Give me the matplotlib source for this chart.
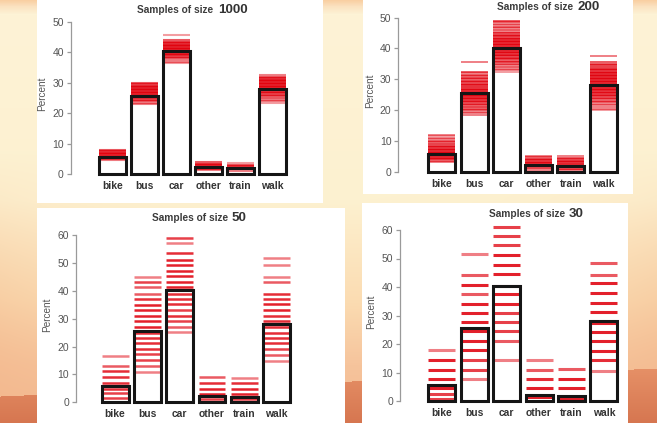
import matplotlib.pyplot as plt
import numpy as np
from matplotlib.patches import Rectangle
from matplotlib.colors import to_rgb

plt.rcParams['font.family'] = ['Liberation Sans', 'DejaVu Sans']

W, H = 657, 423

categories = ["bike", "bus", "car", "other", "train", "walk"]
population_pct = [5.7, 25.6, 40.3, 2.2, 1.9, 28.1]

# sample percentages, as (level, how many samples landed there)
samples_1000 = {
    "bike": [(8.0, 1.5), (7.5, 2.5), (7.0, 3), (6.5, 3), (6.0, 3), (5.5, 2.5), (5.0, 1.5), (4.5, 1)],
    "bus": [(30.0, 1.5), (29.5, 2), (29.0, 2.5), (28.5, 3), (28.0, 3), (27.5, 3), (27.0, 3), (26.5, 3),
            (26.0, 3), (25.5, 3), (25.0, 2.5), (24.5, 2), (24.0, 1.5), (23.5, 1), (23.0, 1)],
    "car": [(45.8, 0.7), (44.0, 1.5), (43.5, 2), (43.0, 2.5), (42.5, 3), (42.0, 3), (41.5, 3), (41.0, 3),
            (40.5, 3), (40.0, 3), (39.5, 3), (39.0, 2.5), (38.5, 2), (38.0, 1.5), (37.5, 1), (37.0, 1), (36.5, 0.7)],
    "other": [(3.8, 1.5), (3.3, 2.5), (2.8, 3), (2.3, 3), (1.8, 2), (1.3, 1)],
    "train": [(3.6, 0.7), (3.0, 1.5), (2.5, 2.5), (2.0, 3), (1.5, 2), (1.0, 1)],
    "walk": [(32.5, 1), (32.0, 1.5), (31.5, 2.5), (31.0, 3), (30.5, 3), (30.0, 3), (29.5, 3), (29.0, 3),
             (28.5, 3), (28.0, 3), (27.5, 2.5), (27.0, 2.5), (26.5, 2), (26.0, 2), (25.5, 1.5), (25.0, 1.5),
             (24.5, 1), (24.0, 1), (23.5, 0.7)],
}

samples_200 = {
    "bike": [(12.0, 1), (11.5, 0.7), (11.0, 1), (10.5, 1), (10.0, 1.5), (9.5, 1.5), (9.0, 2), (8.5, 2),
             (8.0, 2.5), (7.5, 2.5), (7.0, 3), (6.5, 3), (6.0, 3), (5.5, 3), (5.0, 3), (4.5, 3), (4.0, 2.5),
             (3.5, 1.5), (3.0, 1)],
    "bus": [(35.5, 1), (32.5, 1.5), (32.0, 1), (31.5, 1.5), (31.0, 1.5), (30.5, 2), (30.0, 1.5), (29.5, 2),
            (29.0, 2), (28.5, 2), (28.0, 2.5), (27.5, 2.5), (27.0, 2.5), (26.5, 3), (26.0, 3), (25.5, 3),
            (25.0, 3), (24.5, 3), (24.0, 3), (23.5, 2.5), (23.0, 2.5), (22.5, 2), (22.0, 2), (21.5, 1.5),
            (21.0, 2), (20.5, 1.5), (20.0, 1.5), (19.5, 1), (19.0, 1), (18.5, 1)],
    "car": [(49.0, 1.5), (48.5, 1.5), (48.0, 1), (47.5, 1), (47.0, 1.5), (46.5, 1), (46.0, 1.5), (45.5, 1),
            (45.0, 2), (44.5, 2), (44.0, 2.5), (43.5, 2), (43.0, 3), (42.5, 3), (42.0, 3), (41.5, 3),
            (41.0, 3), (40.5, 3), (40.0, 3), (39.5, 3), (39.0, 3), (38.5, 2.5), (38.0, 3), (37.5, 2),
            (37.0, 2.5), (36.5, 2), (36.0, 1.5), (35.5, 2), (35.0, 1.5), (34.5, 1), (34.0, 1.5), (33.5, 1),
            (33.0, 1), (32.5, 0.7)],
    "other": [(5.2, 1), (4.7, 1.5), (4.2, 2), (3.7, 2.5), (3.2, 2.5), (2.7, 3), (2.2, 3), (1.7, 2.5),
              (1.2, 2), (0.7, 1)],
    "train": [(5.0, 1), (4.5, 1.5), (4.0, 2), (3.5, 2.5), (3.0, 2.5), (2.5, 3), (2.0, 3), (1.5, 2.5),
              (1.0, 2), (0.5, 1)],
    "walk": [(37.5, 1), (35.5, 1.5), (35.0, 1.5), (34.5, 2), (34.0, 2), (33.5, 2.5), (33.0, 2.5), (32.5, 2.5),
             (32.0, 3), (31.5, 3), (31.0, 3), (30.5, 3), (30.0, 3), (29.5, 3), (29.0, 3), (28.5, 3),
             (28.0, 3), (27.5, 3), (27.0, 3), (26.5, 3), (26.0, 2.5), (25.5, 2.5), (25.0, 2.5), (24.5, 2),
             (24.0, 2), (23.5, 1.5), (23.0, 1.5), (22.5, 1.5), (22.0, 1), (21.5, 1), (21.0, 1), (20.5, 1),
             (20.0, 0.7)],
}

samples_50 = {
    "bike": [(16.7, 1), (12.9, 1.5), (11.2, 2.5), (9.2, 2.5), (7.0, 2.5), (4.9, 2.5), (3.2, 2), (1.4, 2)],
    "bus": [(45.0, 1), (43.2, 2), (41.2, 1.5), (39.0, 1.5), (37.0, 2.5), (35.0, 3), (33.1, 3), (31.0, 3),
            (29.2, 3), (27.1, 3), (25.0, 2.5), (23.0, 2.5), (21.1, 2.5), (19.1, 2.5), (17.3, 2), (15.2, 2),
            (13.1, 1.5), (11.0, 1)],
    "car": [(59.0, 2), (57.2, 1), (53.4, 2.5), (51.2, 3), (49.2, 3), (47.2, 3), (45.2, 3), (43.2, 3),
            (41.2, 3), (39.0, 2.5), (37.0, 2.5), (35.2, 2.5), (33.1, 2), (31.0, 2.5), (29.2, 2), (27.1, 1.5),
            (25.3, 1)],
    "other": [(9.2, 1.5), (7.0, 2.5), (4.9, 3), (2.9, 3), (1.1, 2)],
    "train": [(8.6, 1), (7.0, 2.5), (4.9, 3), (2.9, 3), (1.1, 2)],
    "walk": [(51.6, 1), (49.4, 1), (45.0, 1), (43.2, 1.5), (39.0, 2.5), (37.0, 2.5), (35.1, 3), (33.1, 3),
             (31.0, 2.5), (29.2, 2.5), (27.1, 2.5), (25.0, 2.5), (23.0, 2.5), (21.1, 2.5), (19.1, 2),
             (17.0, 1.5), (14.8, 1)],
}

samples_30 = {
    "bike": [(18.0, 1), (14.3, 3), (11.0, 3), (7.7, 3), (4.5, 3), (2.5, 2), (0.8, 2)],
    "bus": [(51.6, 1), (44.2, 1.5), (40.7, 3), (37.5, 1.5), (34.2, 3), (31.0, 3), (27.7, 3), (24.5, 3),
            (21.0, 3), (17.8, 3), (14.3, 2), (11.0, 2), (7.7, 1)],
    "car": [(61.0, 2), (57.8, 2), (54.8, 2), (51.2, 3), (47.8, 3), (44.5, 3), (40.4, 2), (37.5, 3),
            (34.2, 3), (31.0, 2), (27.7, 2), (24.5, 2), (21.0, 1.5), (14.3, 1)],
    "other": [(14.5, 1), (11.0, 1.5), (7.7, 2.5), (4.5, 3), (1.5, 3)],
    "train": [(11.2, 1.5), (7.7, 3), (4.5, 3), (1.2, 3)],
    "walk": [(48.3, 1.5), (44.3, 1.5), (41.3, 3), (37.8, 3), (34.5, 3), (31.2, 3), (27.4, 3), (24.2, 3),
             (21.0, 3), (17.7, 3), (14.5, 2.5), (10.7, 1)],
}

# layout in pixels (top-left origin)
panels = [
    dict(n=1000, lines=samples_1000, box=(37, 0, 323, 203), axis_x=70.7, bar_l=99, bar_r=286,
         y0=174, ytop=22, ymax=50, split=(213, 218), base=13, lw=1.5),
    dict(n=200, lines=samples_200, box=(363, 0, 633, 194), axis_x=398.3, bar_l=428.3, bar_r=616.7,
         y0=171.7, ytop=17.7, ymax=50, split=(573, 577), base=9.5, lw=1.4),
    dict(n=50, lines=samples_50, box=(37, 208, 345, 423), axis_x=76, bar_l=101.7, bar_r=290,
         y0=402.3, ytop=235, ymax=60, split=(228, 232), base=220.5, lw=1.8),
    dict(n=30, lines=samples_30, box=(362, 203, 628, 423), axis_x=400, bar_l=428.3, bar_r=617.3,
         y0=401, ytop=230, ymax=60, split=(565, 569), base=216.5, lw=2.2),
]


def fx(px):
    return px / W


def fy(py):
    return 1 - py / H


def blend(stops_y, stops_c, n):
    rgb = np.array([to_rgb(c) for c in stops_c])
    pos = np.arange(n)
    return np.stack([np.interp(pos, stops_y, rgb[:, k]) for k in range(3)], axis=1)


fig = plt.figure(figsize=(W / 100, H / 100), dpi=100)

# sunset-ish backdrop: vertical sky gradient, warmer towards the sides, ground below a tilted horizon
sky = blend([0, 6, 14, 200, 300, 365, 423],
            ['#f9cfa2', '#fbe2c0', '#fdf3d6', '#fdf1d0', '#fbdcb2', '#f6c49c', '#f2b890'], H)
ground = blend([360, 423], ['#e8946a', '#d67650'], H)
img = np.repeat(sky[:, None, :], W, axis=1)
yy, xx = np.mgrid[0:H, 0:W]
side = np.clip(np.abs(xx - W / 2) / (W / 2), 0, 1) ** 3 * np.clip((yy - 150) / 200, 0, 1)
img = img * (1 - 0.45 * side[..., None]) + np.array(to_rgb('#f2b488')) * 0.45 * side[..., None]
horizon = 396 - 28 * xx / W
img[yy > horizon] = np.repeat(ground[:, None, :], W, axis=1)[yy > horizon]

bg = fig.add_axes([0, 0, 1, 1], zorder=0)
bg.imshow(img, aspect='auto', extent=(0, W, H, 0), interpolation='bilinear')
bg.set_xlim(0, W)
bg.set_ylim(H, 0)
bg.axis('off')

red = to_rgb('#e0000c')
base_alpha = 0.5
centers = [0.7 + 1.2 * i for i in range(len(categories))]

for p in panels:
    x0, y0b, x1, y1b = p['box']
    bg.add_patch(Rectangle((x0, y0b), x1 - x0, y1b - y0b, facecolor='white', edgecolor='none'))

    ppu = (p['bar_r'] - p['bar_l']) / 7.0
    xlo = 0.2 - (p['bar_l'] - p['axis_x']) / ppu
    ax = fig.add_axes([fx(p['axis_x']), fy(p['y0']), fx(p['bar_r']) - fx(p['axis_x']),
                       fy(p['ytop']) - fy(p['y0'])], zorder=2)
    ax.patch.set_alpha(0)
    ax.set_xlim(xlo, 7.2)
    ax.set_ylim(0, p['ymax'])

    for c, cat in zip(centers, categories):
        lev = [v for v, w in p['lines'][cat]]
        cols = [(*red, 1 - (1 - base_alpha) ** w) for v, w in p['lines'][cat]]
        ax.hlines(lev, c - 0.5, c + 0.5, colors=cols, lw=p['lw'], capstyle='butt',
                  clip_on=False, zorder=2)
        ax.annotate(cat, (c, 0), xytext=(0, -8.6), textcoords='offset points', ha='center',
                    va='center', fontsize=7.4, fontweight='bold', color='#333333',
                    annotation_clip=False)

    ax.bar(centers, population_pct, width=1.0, fill=False, edgecolor='#151515', lw=2.2,
           zorder=3, clip_on=False)

    for s in ['top', 'right', 'bottom']:
        ax.spines[s].set_visible(False)
    ax.spines['left'].set_bounds(0, p['ymax'])
    ax.spines['left'].set_color('#9a9a9a')
    ax.spines['left'].set_linewidth(0.9)
    ax.set_xticks([])
    ax.set_yticks(range(0, p['ymax'] + 1, 10))
    ax.tick_params(axis='y', length=3, width=0.9, color='#9a9a9a', labelsize=7.5,
                   labelcolor='#555555', pad=2)

    fig.text(fx(p['axis_x'] - 28.5), fy((p['y0'] + p['ytop']) / 2 - 4), 'Percent', rotation=90,
             ha='center', va='center', fontsize=7.2, color='#555555')
    fig.text(fx(p['split'][0]), fy(p['base']), 'Samples of size', ha='right', va='baseline',
             fontsize=7.3, fontweight='bold', color='#3c3c3c')
    fig.text(fx(p['split'][1]), fy(p['base']), str(p['n']), ha='left', va='baseline',
             fontsize=9.6, fontweight='bold', color='#333333')

fig.savefig('out.png', dpi=100)
